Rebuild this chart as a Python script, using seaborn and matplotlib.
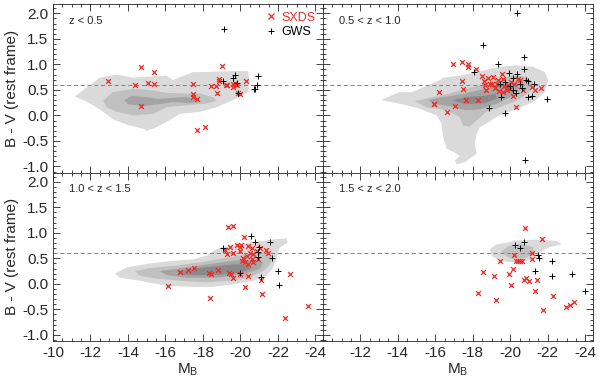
import numpy as np
import pandas as pd
import seaborn as sns
import matplotlib.pyplot as plt
from matplotlib.lines import Line2D
from matplotlib.ticker import MultipleLocator

sns.set_style("ticks")
plt.rcParams['font.family'] = ['Liberation Sans', 'DejaVu Sans']
plt.rcParams['mathtext.fontset'] = 'custom'
plt.rcParams['mathtext.rm'] = 'Liberation Sans'
plt.rcParams['axes.unicode_minus'] = False

panel_labels = ['z < 0.5', '0.5 < z < 1.0', '1.0 < z < 1.5', '1.5 < z < 2.0']

# --- SXDS (red x) and GWS (black +) points, per redshift bin ---
sxds1_m = [-12.95, -14.68, -14.37, -15.05, -15.39, -15.39, -14.68, -17.45, -17.48, -17.45, -17.66, -17.66,
           -18.09, -18.41, -18.69, -18.76, -18.85, -18.87, -19.0, -19.23, -19.3, -19.62, -19.62, -19.71,
           -19.8, -19.88, -19.97, -20.28]
sxds1_bv = [0.67, 0.95, 0.60, 0.63, 0.85, 0.61, 0.18, 0.61, 0.41, 0.36, 0.33, -0.29,
            -0.23, 0.57, 0.57, 0.43, 0.72, 0.68, 0.96, 0.59, 0.60, 0.55, 0.62, 0.63,
            0.60, 0.43, 0.41, 0.67]
gws1_m = [-19.14, -19.05, -19.62, -19.72, -19.8, -19.85, -20.74, -20.8, -20.86, -20.92]
gws1_bv = [1.69, 0.67, 0.73, 0.80, 0.63, 0.43, 0.52, 0.52, 0.60, 0.78]

sxds2_m = [-16.92, -17.41, -17.72, -17.72, -18.16, -17.43, -17.45, -16.2, -15.92, -15.95, -16.63, -17.04,
           -17.66, -18.28, -18.5, -18.59, -18.66, -18.82, -19.0, -19.17, -19.35, -19.56, -19.62, -19.67,
           -19.8, -19.83, -20.06, -20.15, -20.29, -20.5, -20.68, -21.13, -21.31, -21.66, -18.9, -19.1,
           -19.4, -19.6, -20.0, -20.2, -20.4, -18.7, -19.3, -19.9]
sxds2_bv = [1.01, 1.04, 1.01, 0.94, 0.90, 0.67, 0.52, 0.45, 0.22, 0.22, 0.07, 0.18,
            0.31, 0.31, 0.78, 0.67, 0.59, 0.73, 0.61, 0.54, 0.70, 0.82, 0.72, 0.58,
            0.49, 0.56, 0.65, 0.39, 0.16, 0.69, 0.50, 0.55, 0.49, 0.54, 0.62, 0.75,
            0.48, 0.45, 0.52, 0.62, 0.72, 0.50, 0.62, 0.60]
gws2_m = [-20.35, -18.53, -20.72, -19.32, -18.07, -19.92, -20.33, -20.72, -20.86, -20.95, -20.15, -19.44,
          -21.27, -20.61, -20.15, -20.29, -19.48, -20.95, -21.16, -21.96, -18.85, -19.74, -20.77, -20.5,
          -20.0, -19.7]
gws2_bv = [2.01, 1.37, 1.14, 1.0, 0.86, 0.83, 0.82, 0.90, 0.69, 0.67, 0.73, 0.61,
           0.61, 0.54, 0.49, 0.43, 0.36, 0.36, 0.39, 0.32, 0.15, 0.04, -0.88, 0.62,
           0.58, 0.66]

sxds3_m = [-16.12, -16.77, -17.18, -17.54, -18.37, -18.32, -18.43, -18.82, -19.35, -19.62, -19.4, -19.52,
           -19.62, -19.97, -20.2, -20.24, -20.42, -21.08, -21.13, -22.64, -22.37, -23.62, -19.44, -19.8,
           -19.97, -20.05, -19.17, -19.26, -19.62, -19.97, -20.42, -20.6, -20.5, -20.68, -20.86, -21.04,
           -21.36, -21.48, -20.15, -20.06, -20.24, -20.42, -20.6, -20.33, -20.68, -20.95]
sxds3_bv = [-0.04, 0.24, 0.27, 0.31, -0.27, 0.22, 0.20, 0.27, 1.11, 1.14, 0.22, 0.20,
            0.11, 0.19, 0.92, -0.06, 0.16, 0.07, -0.19, 0.19, -0.66, -0.44, 0.72, 0.77,
            0.72, 0.77, 0.66, 0.59, 0.61, 0.64, 0.74, 0.70, 0.61, 0.59, 0.64, 0.71,
            0.66, 0.61, 0.51, 0.45, 0.42, 0.38, 0.48, 0.55, 0.42, 0.48]
gws3_m = [-20.56, -20.77, -21.57, -19.08, -21.0, -20.95, -20.92, -21.66, -19.97, -21.08, -22.02, -22.07]
gws3_bv = [0.94, 0.81, 0.81, 0.70, 0.72, 0.63, 0.53, 0.51, 0.22, 0.14, 0.25, -0.02]

sxds4_m = [-20.79, -21.68, -20.22, -19.44, -20.28, -20.4, -20.5, -20.6, -21.15, -21.18, -20.15, -19.94,
           -18.55, -19.12, -20.72, -20.86, -21.0, -21.43, -20.03, -21.34, -18.28, -22.28, -19.23, -21.75,
           -22.96, -23.17, -23.39]
sxds4_bv = [1.10, 0.87, 0.56, 0.44, 0.44, 0.45, 0.45, 0.44, 0.61, 0.48, 0.29, 0.19,
            0.24, 0.16, 0.07, 0.12, 0.06, 0.07, -0.02, -0.14, -0.18, -0.23, -0.31, -0.51,
            -0.45, -0.41, -0.36]
gws4_m = [-20.24, -20.74, -20.54, -21.48, -21.52, -22.23, -21.31, -22.23, -23.3, -24.01]
gws4_bv = [0.76, 0.81, 0.70, 0.56, 0.50, 0.45, 0.25, 0.16, 0.19, -0.14]

# --- density contour outlines (M_B, B-V), light to dark ---
z1_c1 = [(-11.17, 0.37), (-11.8, 0.55), (-12.5, 0.74), (-13.4, 0.80), (-14.28, 0.74), (-15.17, 0.76),
         (-16.06, 0.78), (-16.4, 0.69), (-16.77, 0.75), (-17.48, 0.85), (-18.2, 0.85), (-19.62, 0.87),
         (-20.42, 0.87), (-20.47, 0.69), (-20.42, 0.46), (-19.97, 0.36), (-18.73, 0.16), (-17.84, 0.07),
         (-16.77, 0.03), (-16.06, -0.13), (-15.35, -0.26), (-15.0, -0.30), (-14.82, -0.26), (-13.93, -0.18),
         (-13.22, -0.08), (-12.5, 0.12), (-11.8, 0.27)]
z1_c2 = [(-12.68, 0.29), (-13.2, 0.46), (-14.28, 0.52), (-15.35, 0.49), (-16.06, 0.44), (-17.13, 0.43),
         (-17.84, 0.43), (-18.55, 0.35), (-18.73, 0.29), (-18.2, 0.23), (-17.13, 0.20), (-16.06, 0.16),
         (-15.35, 0.03), (-14.28, 0.0), (-13.4, 0.07), (-12.86, 0.16)]
z1_c3 = [(-13.8, 0.30), (-14.2, 0.38), (-15.0, 0.36), (-15.6, 0.32), (-16.2, 0.34), (-17.0, 0.36),
         (-17.7, 0.33), (-17.9, 0.27), (-17.3, 0.24), (-16.4, 0.26), (-15.6, 0.22), (-14.8, 0.18),
         (-14.0, 0.22)]

z2_c1 = [(-13.1, 0.30), (-14.1, 0.46), (-14.73, 0.45), (-15.53, 0.58), (-16.24, 0.69), (-16.42, 0.74),
         (-17.3, 0.78), (-18.2, 0.85), (-19.44, 0.95), (-20.33, 0.98), (-21.22, 0.95), (-21.84, 0.85),
         (-22.02, 0.69), (-21.84, 0.46), (-21.22, 0.26), (-20.15, 0.10), (-19.26, -0.03), (-18.72, -0.16),
         (-18.37, -0.23), (-18.2, -0.36), (-18.1, -0.55), (-18.2, -0.75), (-17.93, -0.82), (-17.57, -0.92),
         (-17.13, -0.96), (-17.04, -0.88), (-17.3, -0.80), (-17.0, -0.72), (-16.6, -0.65), (-16.42, -0.42),
         (-16.33, -0.16), (-16.06, 0.0), (-15.17, 0.13), (-14.1, 0.23)]
z2_c2 = [(-14.9, 0.28), (-15.88, 0.36), (-16.77, 0.43), (-18.02, 0.56), (-19.08, 0.69), (-20.15, 0.78),
         (-20.86, 0.76), (-21.22, 0.62), (-21.04, 0.46), (-20.33, 0.29), (-19.44, 0.16), (-18.72, 0.07),
         (-17.84, -0.22), (-17.48, -0.20), (-17.3, -0.03), (-16.6, 0.10), (-15.53, 0.16)]
z2_c3 = [(-15.6, 0.30), (-16.4, 0.36), (-17.5, 0.42), (-18.6, 0.52), (-19.6, 0.62), (-20.3, 0.64),
         (-20.6, 0.52), (-20.0, 0.36), (-19.2, 0.22), (-18.4, 0.12), (-17.6, 0.10), (-16.8, 0.18),
         (-16.0, 0.22)]
z2_c4 = [(-16.9, 0.30), (-17.6, 0.36), (-18.5, 0.38), (-19.2, 0.42), (-19.3, 0.33), (-18.6, 0.24),
         (-17.6, 0.22)]

z3_c1 = [(-13.31, 0.20), (-13.93, 0.32), (-15.17, 0.40), (-16.42, 0.45), (-17.48, 0.48), (-18.2, 0.55),
         (-18.73, 0.68), (-19.62, 0.77), (-20.68, 0.81), (-21.75, 0.87), (-22.46, 0.89), (-22.5, 0.81),
         (-22.1, 0.71), (-21.93, 0.51), (-21.75, 0.32), (-21.4, 0.16), (-20.68, 0.06), (-19.62, -0.01),
         (-18.55, -0.06), (-17.48, -0.06), (-16.06, -0.04), (-14.64, 0.06), (-13.57, 0.12)]
z3_c2 = [(-14.37, 0.25), (-15.17, 0.31), (-16.42, 0.35), (-17.84, 0.42), (-19.26, 0.51), (-20.33, 0.58),
         (-21.22, 0.61), (-21.75, 0.55), (-21.57, 0.38), (-21.22, 0.25), (-20.51, 0.12), (-19.44, 0.06),
         (-18.2, 0.03), (-16.77, 0.06), (-15.35, 0.11), (-14.64, 0.16)]
z3_c3 = [(-15.7, 0.25), (-16.77, 0.30), (-18.2, 0.38), (-19.62, 0.45), (-20.68, 0.48), (-21.22, 0.42),
         (-21.04, 0.29), (-20.15, 0.19), (-18.73, 0.12), (-17.13, 0.12), (-16.06, 0.17)]
z3_c4 = [(-16.6, 0.24), (-17.5, 0.30), (-18.6, 0.34), (-19.6, 0.38), (-20.4, 0.38), (-20.6, 0.30),
         (-20.0, 0.22), (-19.0, 0.18), (-17.8, 0.17), (-16.9, 0.18)]

z4_c1 = [(-18.91, 0.68), (-19.26, 0.77), (-20.33, 0.85), (-21.4, 0.87), (-22.46, 0.84), (-22.73, 0.77),
         (-22.1, 0.72), (-21.57, 0.61), (-21.4, 0.51), (-20.86, 0.45), (-20.15, 0.42), (-19.44, 0.45),
         (-19.0, 0.55)]
z4_c2 = [(-19.5, 0.62), (-19.9, 0.74), (-20.6, 0.78), (-21.2, 0.72), (-21.3, 0.60), (-20.8, 0.50),
         (-20.0, 0.50)]

grey_levels = ['#dadada', '#c0c0c0', '#a4a4a4', '#8a8a8a']

contours = [[z1_c1, z1_c2, z1_c3], [z2_c1, z2_c2, z2_c3, z2_c4],
            [z3_c1, z3_c2, z3_c3, z3_c4], [z4_c1, z4_c2]]
points = [(sxds1_m, sxds1_bv, gws1_m, gws1_bv), (sxds2_m, sxds2_bv, gws2_m, gws2_bv),
          (sxds3_m, sxds3_bv, gws3_m, gws3_bv), (sxds4_m, sxds4_bv, gws4_m, gws4_bv)]

x_ticks = [-10, -12, -14, -16, -18, -20, -22, -24]
y_ticks = [-1.0, -0.5, 0.0, 0.5, 1.0, 1.5, 2.0]

red = '#ee2a24'

fig, axes = plt.subplots(2, 2, figsize=(6, 3.77), dpi=100)
fig.subplots_adjust(left=0.0883, right=0.988, top=0.989, bottom=0.0955, hspace=0, wspace=0)

for i, ax in enumerate(axes.flat):
    for lev, poly in enumerate(contours[i]):
        xs, ys = zip(*poly)
        ax.fill(xs, ys, color=grey_levels[lev], lw=0, zorder=1)
    ax.axhline(0.6, color='0.5', lw=0.7, ls=(0, (4, 3)), zorder=2)

    sm, sb, gm, gb = points[i]
    df_s = pd.DataFrame({'M': sm, 'BV': sb})
    df_g = pd.DataFrame({'M': gm, 'BV': gb})
    sns.scatterplot(data=df_s, x='M', y='BV', marker='x', color=red, s=12, linewidth=0.9, ax=ax, zorder=3)
    sns.scatterplot(data=df_g, x='M', y='BV', marker='+', color='black', s=20, linewidth=0.7, ax=ax, zorder=4)

    ax.text(0.06, 0.9, panel_labels[i], transform=ax.transAxes, fontsize=8, va='center', ha='left')

    ax.set_xlim(-10, -24.4)
    ax.set_ylim(-1.12, 2.18)
    ax.set_xticks(x_ticks)
    ax.set_yticks(y_ticks)
    ax.set_xticklabels([f'{t:d}' for t in x_ticks])
    ax.set_yticklabels([f'{t:.1f}' for t in y_ticks])
    ax.xaxis.set_minor_locator(MultipleLocator(0.5))
    ax.yaxis.set_minor_locator(MultipleLocator(0.1))
    ax.tick_params(which='both', direction='in', top=True, right=True, labelsize=11, width=0.6)
    ax.tick_params(which='major', length=5)
    ax.tick_params(which='minor', length=2.5)
    for sp in ax.spines.values():
        sp.set_linewidth(0.6)
    ax.set_xlabel('')
    ax.set_ylabel('')

for ax in axes[1]:
    ax.set_xlabel(r'M$_{\rm B}$', fontsize=11, labelpad=1)
for ax in axes[:, 0]:
    ax.set_ylabel('B - V (rest frame)', fontsize=11, labelpad=2)

axes[0, 0].tick_params(labelbottom=False)
axes[0, 1].tick_params(labelbottom=False, labelleft=False)
axes[1, 1].tick_params(labelleft=False)
axes[1, 1].set_xticklabels([''] + [f'{t:d}' for t in x_ticks[1:]])

handles = [Line2D([], [], marker='x', color=red, ls='', ms=4, mew=0.9),
           Line2D([], [], marker='+', color='black', ls='', ms=5, mew=0.7)]
leg = axes[0, 0].legend(handles, ['SXDS', 'GWS'], loc='upper right', frameon=False, fontsize=9,
                        handletextpad=0.3, handlelength=1.0, borderaxespad=0.2, labelspacing=0.2,
                        labelcolor=[red, 'black'])

fig.savefig('out.png', dpi=100)
